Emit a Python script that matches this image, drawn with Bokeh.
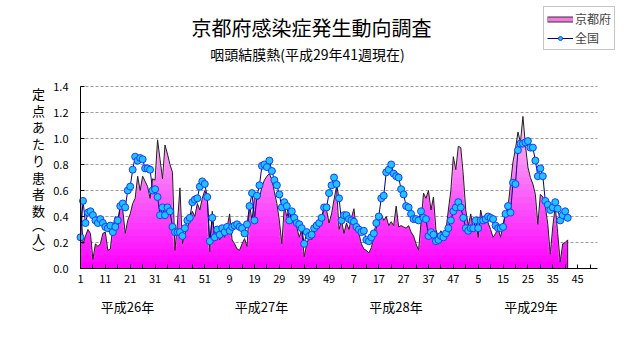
import numpy as np
from bokeh.plotting import figure
from bokeh.models import Range1d, FixedTicker, Label, Legend, LegendItem
from bokeh.embed import file_html
from bokeh.resources import INLINE

# ---------------- data (定点あたり患者数) ----------------
kyoto_2014 = [0.53,0.19,0.25,0.30,0.27,0.07,0.19,0.17,0.19,0.27,
              0.28,0.14,0.15,0.32,0.40,0.32,0.49,0.45,0.27,0.37,
              0.42,0.50,0.54,0.71,0.60,0.71,0.67,0.63,0.54,0.69,
              0.68,0.99,0.84,0.69,0.95,0.88,0.80,0.74,0.14,0.35,
              0.62,0.19,0.27,0.31,0.38,0.44,0.40,0.50,0.45,0.54,
              0.60,0.55]
kyoto_2015 = [0.13,0.44,0.22,0.27,0.22,0.27,0.24,0.32,0.42,0.22,
              0.19,0.15,0.14,0.19,0.23,0.17,0.49,0.37,0.55,0.53,
              0.54,0.63,0.68,0.71,0.73,0.68,0.59,0.50,0.37,0.19,
              0.48,0.40,0.45,0.35,0.37,0.32,0.24,0.30,0.09,0.19,
              0.24,0.22,0.27,0.32,0.35,0.36,0.48,0.45,0.35,0.42,
              0.53,0.63]
kyoto_2016 = [0.30,0.37,0.27,0.35,0.30,0.39,0.46,0.30,0.27,0.19,
              0.15,0.14,0.12,0.16,0.24,0.31,0.37,0.42,0.37,0.40,
              0.33,0.36,0.33,0.48,0.32,0.33,0.32,0.31,0.33,0.28,
              0.25,0.19,0.14,0.35,0.58,0.54,0.60,0.45,0.55,0.30,
              0.24,0.29,0.26,0.29,0.45,0.60,0.86,0.76,0.94,0.93,
              0.72,0.45]
kyoto_2017 = [0.33,0.42,0.30,0.38,0.24,0.45,0.36,0.42,0.35,0.30,
              0.24,0.27,0.31,0.24,0.34,0.43,0.47,0.65,0.82,0.92,
              1.05,0.97,1.17,0.95,0.78,0.70,0.65,0.57,0.34,0.57,
              0.55,0.48,0.34,0.11,0.32,0.48,0.27,0.05,0.19,0.20,
              0.22]

national_2014 = [0.24,0.52,0.35,0.43,0.44,0.41,0.37,0.35,0.38,0.35,
                 0.32,0.31,0.33,0.28,0.32,0.37,0.48,0.50,0.47,0.60,
                 0.63,0.76,0.86,0.83,0.85,0.84,0.77,0.77,0.76,0.60,
                 0.61,0.55,0.41,0.47,0.41,0.47,0.44,0.32,0.28,0.28,
                 0.28,0.25,0.31,0.37,0.39,0.51,0.53,0.54,0.63,0.67,
                 0.65,0.55]
national_2015 = [0.21,0.39,0.24,0.30,0.26,0.31,0.28,0.32,0.29,0.32,
                 0.33,0.34,0.32,0.31,0.27,0.34,0.48,0.58,0.37,0.56,
                 0.64,0.79,0.80,0.78,0.83,0.75,0.68,0.64,0.57,0.47,
                 0.51,0.48,0.37,0.44,0.39,0.35,0.34,0.31,0.19,0.28,
                 0.25,0.26,0.31,0.33,0.35,0.39,0.47,0.47,0.58,0.64,
                 0.70,0.65]
national_2016 = [0.54,0.37,0.41,0.41,0.38,0.37,0.36,0.32,0.30,0.28,
                 0.29,0.22,0.21,0.24,0.27,0.35,0.40,0.54,0.56,0.74,
                 0.76,0.80,0.73,0.71,0.70,0.61,0.57,0.48,0.47,0.42,
                 0.38,0.38,0.37,0.44,0.39,0.38,0.25,0.28,0.26,0.21,
                 0.22,0.25,0.24,0.27,0.31,0.37,0.44,0.47,0.51,0.47,
                 0.39,0.31]
national_2017 = [0.29,0.31,0.31,0.37,0.31,0.37,0.37,0.38,0.40,0.39,
                 0.38,0.33,0.31,0.31,0.32,0.42,0.48,0.43,0.66,0.65,
                 0.91,0.96,0.96,0.97,0.98,0.93,0.93,0.83,0.71,0.77,
                 0.71,0.52,0.49,0.45,0.47,0.51,0.46,0.37,0.41,0.44,
                 0.39]

x_tick_labels = ["1","11","21","31","41","51","9","19","29","39","49",
                 "7","17","27","37","47","5","15","25","35","45"]
y_tick_values = [0.0,0.2,0.4,0.6,0.8,1.0,1.2,1.4]
year_labels = ["平成26年","平成27年","平成28年","平成29年"]
series_names = ["京都府","全国"]
title_text = "京都府感染症発生動向調査"
subtitle_text = "咽頭結膜熱(平成29年41週現在)"
ylabel_chars = ["定","点","あ","た","り","患","者","数","︵","人","︶"]

kyoto = np.array(kyoto_2014 + kyoto_2015 + kyoto_2016 + kyoto_2017)
national = np.array(national_2014 + national_2015 + national_2016 + national_2017)
weeks = np.arange(1, len(kyoto) + 1)

# ---------------- layout helpers ----------------
FONT = "Noto Sans CJK JP"
W, H = 631, 347
FL, FR, FT, FB = 80, 597, 86, 268      # plot area in canvas pixels
X0, X1 = 1, 209                        # category (week index) span of plot area
Y0, Y1 = 0.0, 1.4

def dx(px):
    return X0 + (px - FL) * (X1 - X0) / (FR - FL)

def dy(py):
    return Y0 + (FB - py) * (Y1 - Y0) / (FB - FT)

# frame covers whole canvas; axes are pinned at the plot-area edges
p = figure(width=W, height=H, output_backend="svg", toolbar_location=None,
           x_range=Range1d(dx(0), dx(W)), y_range=Range1d(dy(H), dy(0)),
           min_border=0)
p.outline_line_color = None
p.background_fill_color = "white"
p.border_fill_color = "white"
p.xgrid.visible = False
p.ygrid.visible = False

# gridlines across the plot area only
grid_vals = [v for v in y_tick_values if v > 0]
p.segment(x0=[X0] * len(grid_vals), y0=grid_vals, x1=[X1] * len(grid_vals), y1=grid_vals,
          line_color="#9c9c9c", line_width=1, line_dash="3 2")

# ---------------- Kyoto area with vertical gradient ----------------
levels = np.arange(0.0, 1.40001, 0.05)
c_bot = np.array([255, 0, 255])
c_top = np.array([248, 214, 242])
for lo, hi in zip(levels[:-1], levels[1:]):
    t = min(((lo + hi) / 2) / 1.25, 1.0)
    c = (c_bot * (1 - t) + c_top * t).astype(int)
    col = "#%02x%02x%02x" % tuple(c)
    p.varea(x=weeks, y1=np.minimum(kyoto, lo), y2=np.minimum(kyoto, hi + 0.004),
            fill_color=col)

p.line(weeks, kyoto, line_color="#202020", line_width=1)
p.segment(x0=[weeks[-1]], y0=[0], x1=[weeks[-1]], y1=[kyoto[-1]],
          line_color="#202020", line_width=1)

# ---------------- national ----------------
nat_line = p.line(weeks, national, line_color="#000080", line_width=1)
nat_pts = p.scatter(weeks, national, marker="circle", size=7,
                    fill_color="#1ec3ff", line_color="#1a3cff", line_width=1)

# legend swatch for the area series (NaN data: nothing drawn in the plot)
sw_outer = p.line([np.nan], [np.nan], line_color="#333333", line_width=6)
sw_inner = p.line([np.nan], [np.nan], line_color="#f27ae0", line_width=4)

legend = Legend(items=[LegendItem(label=series_names[0], renderers=[sw_outer, sw_inner]),
                       LegendItem(label=series_names[1], renderers=[nat_line, nat_pts])],
                location=(543, H - 10 - 40), orientation="vertical",
                glyph_width=26, glyph_height=10, label_standoff=2,
                label_text_font=FONT, label_text_font_size="12px",
                label_height=14,
                padding=3, spacing=2, margin=0,
                border_line_color="#8c8c8c", border_line_width=1,
                background_fill_color="white", background_fill_alpha=1.0)
p.add_layout(legend)

# ---------------- axes ----------------
xt = [1 + 10 * k for k in range(len(x_tick_labels))]
xminor = [6 + 10 * k for k in range(len(x_tick_labels))]
p.xaxis.fixed_location = Y0
p.yaxis.fixed_location = X0
p.xaxis.bounds = (X0, X1)
p.yaxis.bounds = (Y0, Y1)
p.xaxis.ticker = FixedTicker(ticks=xt, minor_ticks=xminor)
p.xaxis.major_label_overrides = {t: s for t, s in zip(xt, x_tick_labels)}
p.xaxis.major_tick_in = 4
p.xaxis.major_tick_out = 0
p.xaxis.minor_tick_in = 4
p.xaxis.minor_tick_out = 0
p.xaxis.major_label_standoff = 6
p.yaxis.ticker = FixedTicker(ticks=y_tick_values, minor_ticks=[])
p.yaxis.major_label_overrides = {v: "%.1f" % v for v in y_tick_values}
p.yaxis.major_tick_in = 4
p.yaxis.major_tick_out = 0
p.yaxis.major_label_standoff = 12
for ax in (p.xaxis, p.yaxis):
    ax.axis_line_color = "black"
    ax.axis_line_width = 1
    ax.major_tick_line_color = "black"
    ax.minor_tick_line_color = "black"
    ax.major_label_text_font = FONT
    ax.major_label_text_font_size = "11px"
    ax.major_label_text_color = "black"
p.yaxis.minor_tick_line_color = None

# ---------------- texts ----------------
def add_label(text, px, py, size, align="center"):
    p.add_layout(Label(x=dx(px), y=dy(py), text=text, text_font=FONT,
                       text_font_size=size, text_align=align,
                       text_baseline="middle", text_color="black"))

add_label(title_text, 311, 27, "20px")
add_label(subtitle_text, 307, 53, "14px")
for txt, px in zip(year_labels, [127, 261, 395.5, 530.5]):
    add_label(txt, px, 306, "13px")
for k, ch in enumerate(ylabel_chars):
    py = 93 + 16.7 * k if k < 8 else 93 + 16.7 * 7 + 14 * (k - 7)
    add_label(ch, 38, py, "13px")

open("out.html", "w").write(file_html(p, INLINE))
